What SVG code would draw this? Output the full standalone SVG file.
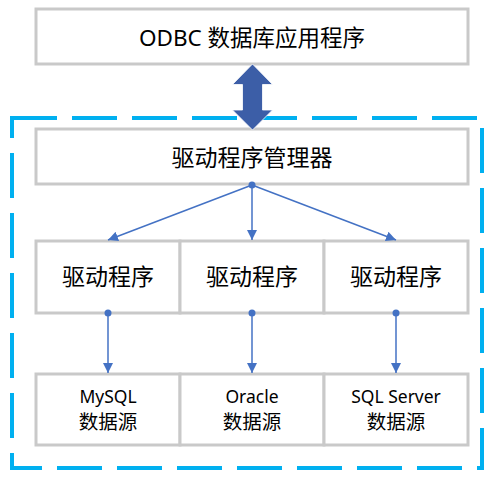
<svg xmlns="http://www.w3.org/2000/svg" width="494" height="480" viewBox="0 0 494 480">
<style>
.box{fill:#fff;stroke:#c9c9c9;stroke-width:3}
.t{font-family:"Noto Sans","Noto Sans CJK SC",sans-serif;fill:#000;text-anchor:middle;dominant-baseline:central}
.big{font-size:23px}
.lat{font-size:17.5px}
.cjk{font-size:19.5px}
.con{stroke:#4472c4;stroke-width:1.5;fill:none;marker-end:url(#ah)}
.dot{fill:#4472c4}
</style>
<defs>
<marker id="ah" viewBox="0 0 10 10" refX="10" refY="5" markerWidth="10" markerHeight="10" markerUnits="userSpaceOnUse" orient="auto">
<path d="M0,0 L10,5 L0,10 Z" fill="#4472c4"/>
</marker>
</defs>
<rect x="12" y="118" width="470" height="350" fill="none" stroke="#00b0f0" stroke-width="4" stroke-dasharray="45 15"/>
<g id="app">
<rect class="box" x="36" y="9" width="432" height="55"/>
<text class="t" style="font-size:22.5px" x="252" y="37">ODBC 数据库应用程序</text>
</g>
<g id="manager">
<rect class="box" x="36" y="129" width="432" height="55"/>
<text class="t big" x="252" y="157">驱动程序管理器</text>
</g>
<g id="driver1">
<rect class="box" x="36" y="241" width="144" height="72"/>
<text class="t big" x="108" y="276">驱动程序</text>
</g>
<g id="driver2">
<rect class="box" x="180" y="241" width="144" height="72"/>
<text class="t big" x="252" y="276">驱动程序</text>
</g>
<g id="driver3">
<rect class="box" x="324" y="241" width="144" height="72"/>
<text class="t big" x="396" y="276">驱动程序</text>
</g>
<g id="ds1">
<rect class="box" x="36" y="374" width="144" height="71"/>
<text class="t lat" x="108" y="396">MySQL</text>
<text class="t cjk" x="108" y="421">数据源</text>
</g>
<g id="ds2">
<rect class="box" x="180" y="374" width="144" height="71"/>
<text class="t lat" x="252" y="396">Oracle</text>
<text class="t cjk" x="252" y="421">数据源</text>
</g>
<g id="ds3">
<rect class="box" x="324" y="374" width="144" height="71"/>
<text class="t lat" x="396" y="396">SQL Server</text>
<text class="t cjk" x="396" y="421">数据源</text>
</g>
<g id="connectors">
<path d="M252.5,64 L272.5,84.5 L262.5,84.5 L262.5,110 L272.5,110 L252.5,130 L232.5,110 L242.5,110 L242.5,84.5 L232.5,84.5 Z" fill="#3c5ea7" stroke="#fff" stroke-width="0.8"/>
<circle class="dot" cx="252" cy="185" r="3.5"/>
<line class="con" x1="252" y1="185" x2="108" y2="240"/>
<line class="con" x1="252" y1="185" x2="252" y2="240"/>
<line class="con" x1="252" y1="185" x2="396" y2="240"/>
<circle class="dot" cx="108" cy="313" r="3.5"/>
<circle class="dot" cx="252" cy="313" r="3.5"/>
<circle class="dot" cx="396" cy="313" r="3.5"/>
<line class="con" x1="108" y1="313" x2="108" y2="373"/>
<line class="con" x1="252" y1="313" x2="252" y2="373"/>
<line class="con" x1="396" y1="313" x2="396" y2="373"/>
</g>
</svg>
